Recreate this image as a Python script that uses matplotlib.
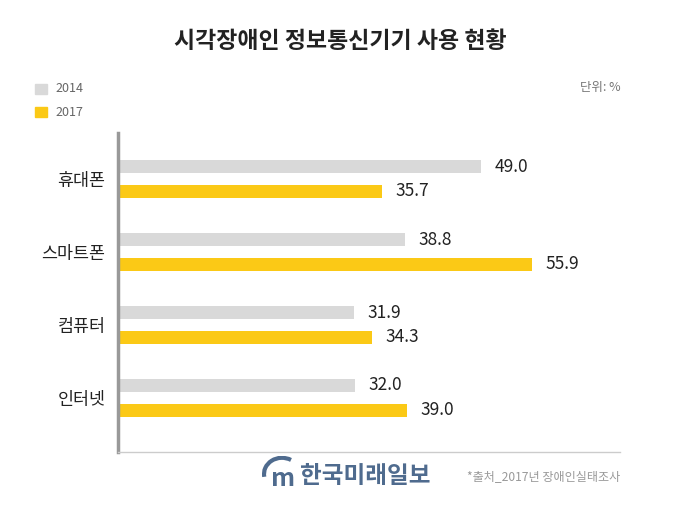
import numpy as np
import matplotlib
matplotlib.use("Agg")
import matplotlib.pyplot as plt
from matplotlib.patches import Arc, Rectangle

plt.rcParams['font.family'] = ['Noto Sans CJK KR', 'DejaVu Sans']

categories = ["휴대폰", "스마트폰", "컴퓨터", "인터넷"]
values_2014 = [49.0, 38.8, 31.9, 32.0]
values_2017 = [35.7, 55.9, 34.3, 39.0]
years = ["2014", "2017"]

grey = "#d9d9d9"
yellow = "#fbc916"

W, H = 693, 505
fig = plt.figure(figsize=(W / 100, H / 100), dpi=100)

# axes placed in pixel terms
ax_l, ax_r, ax_t, ax_b = 118, 620, 133, 452
ax = fig.add_axes([ax_l / W, 1 - ax_b / H, (ax_r - ax_l) / W, (ax_b - ax_t) / H])

y = np.arange(len(categories))
off = 0.171
h = 0.172
ax.barh(y - off, values_2014, height=h, color=grey, label=years[0])
ax.barh(y + off, values_2017, height=h, color=yellow, label=years[1])

for yi, v in zip(y - off, values_2014):
    ax.text(v + 1.8, yi, f"{v:.1f}", va="center", ha="left", fontsize=12.5, color="#222222")
for yi, v in zip(y + off, values_2017):
    ax.text(v + 1.8, yi, f"{v:.1f}", va="center", ha="left", fontsize=12.5, color="#222222")

ax.set_xlim(0, 67.8)
ax.set_ylim(3.74, -0.63)
ax.set_yticks(y)
ax.set_yticklabels(categories, fontsize=12.5, color="#222222")
ax.tick_params(axis="y", length=0, pad=9)
ax.set_xticks([])
for s in ["top", "right"]:
    ax.spines[s].set_visible(False)
ax.spines["left"].set_color("#999999")
ax.spines["left"].set_linewidth(2.5)
ax.spines["bottom"].set_color("#cccccc")
ax.spines["bottom"].set_linewidth(1)

# title
fig.text(340 / W, 1 - 42 / H, "시각장애인 정보통신기기 사용 현황", ha="center", va="center",
         fontsize=16.5, fontweight="bold", color="#222222")

# legend
for i, (lab, c) in enumerate(zip(years, [grey, yellow])):
    yc = 89 + 23 * i
    fig.patches.append(Rectangle((35 / W, 1 - (yc + 5) / H), 12 / W, 10 / H,
                                 transform=fig.transFigure, color=c))
    fig.text(55 / W, 1 - yc / H, lab, ha="left", va="center", fontsize=9, color="#666666")

fig.text(621 / W, 1 - 88 / H, "단위: %", ha="right", va="center", fontsize=9, color="#777777")

# logo and source
logo_c = "#4f6b8e"
fig.text(300 / W, 1 - 476 / H, "한국미래일보", ha="left", va="center", fontsize=17,
         fontweight="bold", color=logo_c)
fig.text(283 / W, 1 - 479 / H, "m", ha="center", va="center", fontsize=18,
         fontweight="bold", color=logo_c)
arc_ax = fig.add_axes([262 / W, 1 - 492 / H, 40 / W, 36 / H])
arc_ax.add_patch(Arc((0.5, 0.5), 0.9, 0.9, theta1=60, theta2=190, color=logo_c, lw=3))
arc_ax.set_xlim(0, 1)
arc_ax.set_ylim(0, 1)
arc_ax.axis("off")
fig.text(620 / W, 1 - 477 / H, "*출처_2017년 장애인실태조사", ha="right", va="center",
         fontsize=8.7, color="#999999")

fig.savefig("out.png", dpi=100)
